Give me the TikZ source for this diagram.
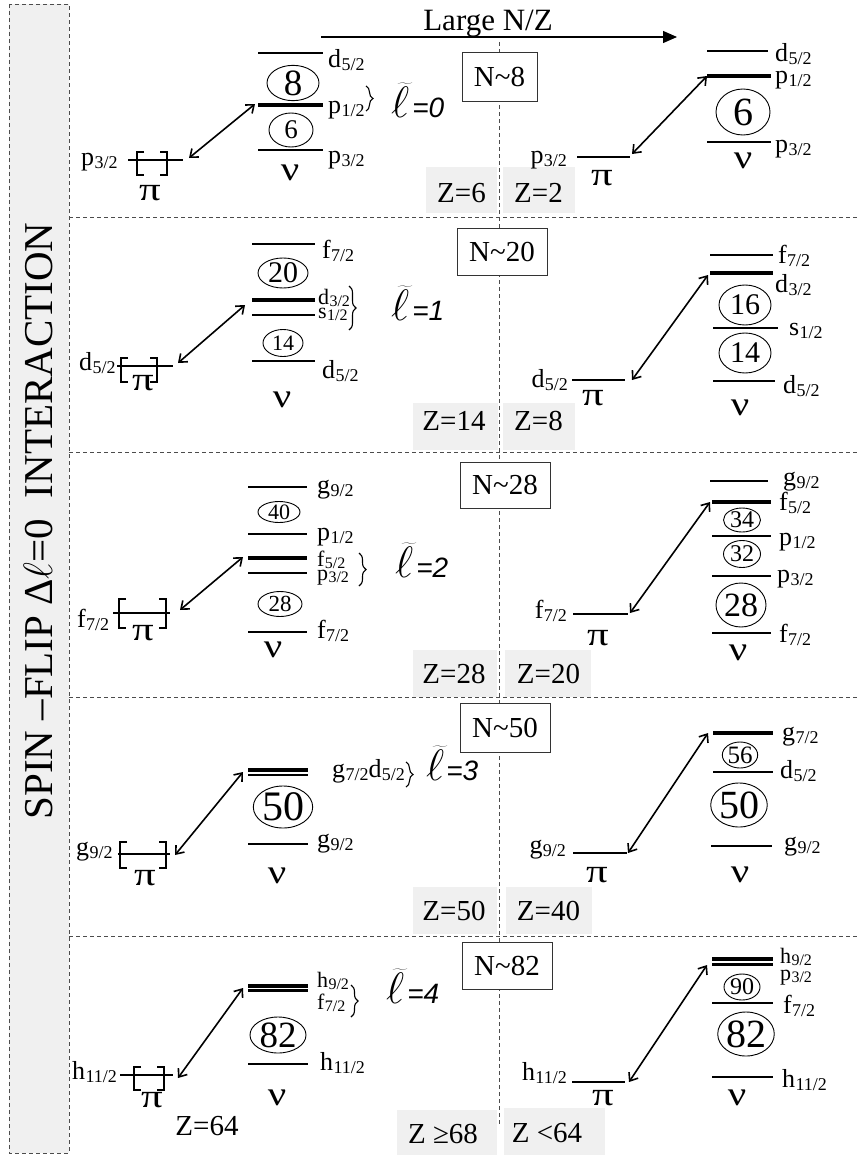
\documentclass[tikz,border=0pt]{standalone}
\usepackage{fix-cm}
\usepackage{fontspec}
\setmainfont{Liberation Serif}
\newfontfamily\lsans{Liberation Sans}
\usetikzlibrary{arrows.meta,shapes.geometric,decorations.pathreplacing}
\newcommand{\fs}[1]{\fontsize{#1}{#1}\selectfont}
\newcommand{\lj}[2]{#1\kern0.3pt\raisebox{-3pt}{\fs{18}#2}}
\newcommand{\ljs}[2]{#1\kern0.3pt\raisebox{-2.5pt}{\fs{16}#2}}
\newcommand{\lbrk}[3]{\draw[brk] (#1,#2) ++(7,0) -- ++(-7,0) -- (#1,#3) -- ++(7,0);}
\newcommand{\rbrk}[3]{\draw[brk] (#1,#2) ++(-7,0) -- ++(7,0) -- (#1,#3) -- ++(-7,0);}
\newcommand{\ltil}[2]{{\fs{44}$\widetilde{\ell}$}\hspace{#2}{\lsans\itshape\fs{28}=#1}}
\newcommand{\PI}{\scalebox{1.3}[1]{π}}
\newcommand{\NU}{\scalebox{1.2}[1]{ν}}
\begin{document}
\begin{tikzpicture}[x=1pt,y=-1pt,
  lev/.style={line width=1.2pt},
  thk/.style={line width=4pt},
  med/.style={line width=2.2pt},
  dsh/.style={dash pattern=on 4pt off 3pt, line width=0.9pt, draw=black!70},
  lab/.style={font=\fs{26}, inner sep=0pt, anchor=base west},
  labs/.style={font=\fs{22}, inner sep=0pt, anchor=base west},
  labr/.style={font=\fs{26}, inner sep=0pt, anchor=base east},
  pin/.style={font=\fs{33}, inner sep=0pt, anchor=base},
  nun/.style={font=\fs{34}, inner sep=0pt, anchor=base},
  ell/.style={draw, ellipse, inner sep=0pt, line width=0.9pt},
  nbox/.style={draw=black!80, fill=white, line width=1pt, font=\fs{29}, inner sep=0pt},
  zfill/.style={fill=gray!12},
  ztxt/.style={font=\fs{29}, inner sep=0pt, anchor=base},
  brk/.style={line width=1.4pt},
  arr/.style={{Straight Barb[length=7pt,width=11pt]}-{Straight Barb[length=7pt,width=11pt]}, line width=1.6pt},
  lt/.style={inner sep=0pt, anchor=base west},
  bra/.style={decorate, decoration={brace, amplitude=7pt}, line width=1.1pt},
]
\useasboundingbox (0,0) rectangle (858,1156);
\fill[white] (0,0) rectangle (858,1156);

% left strip
\fill[gray!12] (9,4) rectangle (69,1153);
\draw[dsh] (9,4) rectangle (69,1153);
\node[rotate=90, font=\fs{41}, inner sep=0pt] (title) at (38,521) {SPIN –FLIP Δ$\ell$=0\ \ INTERACTION};

% dividers
\foreach \yy in {217,452,697,936} {\draw[dsh] (69,\yy) -- (858,\yy);}

% gray Z backgrounds
\fill[zfill] (426,167) rectangle (497,213);
\fill[zfill] (503,167) rectangle (575,213);
\fill[zfill] (413,403) rectangle (498,450);
\fill[zfill] (503,403) rectangle (575,450);
\fill[zfill] (413,650) rectangle (497,697);
\fill[zfill] (505,650) rectangle (591,697);
\fill[zfill] (413,887) rectangle (497,934);
\fill[zfill] (506,887) rectangle (592,934);
\fill[zfill] (397,1110) rectangle (497,1155);
\fill[zfill] (504,1108) rectangle (605,1155);

% centre dashed line
\coordinate (ctop) at (499,42);
\coordinate (cbot) at (499,1124);
\draw[dsh] (ctop) -- (cbot);

% Large N/Z arrow
\node[font=\fs{31}, inner sep=0pt, anchor=base] (lnz) at (488,31) {Large N/Z};
\coordinate (nzs) at (321,37);
\coordinate (nze) at (677,37);
\draw[-{Triangle[length=14pt,width=12pt]}, line width=1.3pt] (nzs) -- (nze);

% N boxes
\node[nbox, minimum width=75, minimum height=48] (n8) at (499.5,77) {N\textasciitilde 8};
\node[nbox, minimum width=90, minimum height=47] (n20) at (502,251.5) {N\textasciitilde 20};
\node[nbox, minimum width=90, minimum height=46] (n28) at (505,485) {N\textasciitilde 28};
\node[nbox, minimum width=90, minimum height=49] (n50) at (505,727.5) {N\textasciitilde 50};
\node[nbox, minimum width=90, minimum height=47] (n82) at (507,965.5) {N\textasciitilde 82};

% Z texts
\node[ztxt] (z1a) at (461.5,202) {Z=6};
\node[ztxt] (z1b) at (538.5,202) {Z=2};
\node[ztxt] (z2a) at (454,430) {Z=14};
\node[ztxt] (z2b) at (538.5,430) {Z=8};
\node[ztxt] (z3a) at (454,683) {Z=28};
\node[ztxt] (z3b) at (548.5,683) {Z=20};
\node[ztxt] (z4a) at (454,920) {Z=50};
\node[ztxt] (z4b) at (548.5,920) {Z=40};
\node[ztxt] (z5a) at (443,1143) {Z ≥68};
\node[ztxt] (z5b) at (547,1142) {Z <64};
\node[ztxt] (z64) at (207,1135) {Z=64};

%================ ROW 1 =================
\draw[lev] (128,160) -- (183,160);
\lbrk{137}{152}{175}
\rbrk{167}{152}{175}
\node[lab] (r1lp) at (81,165) {\lj{p}{3/2}};
\node[pin] (r1lpi) at (150,200) {\PI};
\draw[lev] (258,53) -- (323,53);
\draw[thk] (258,105) -- (323,105);
\draw[lev] (258,150) -- (323,150);
\node[ell, minimum width=52, minimum height=34, font=\fs{37}] (c8) at (293,83) {8};
\node[ell, minimum width=44, minimum height=34, font=\fs{27}] (c6a) at (291,130) {6};
\node[lab] (r1l1) at (328,67) {\lj{d}{5/2}};
\node[lab] (r1l2) at (328,113) {\lj{p}{1/2}};
\node[lab] (r1l3) at (328,163) {\lj{p}{3/2}};
\node[nun] (r1lnu) at (290,180) {\NU};
\draw[bra] (366,86) -- (366,111);
\node[lt] (lt0) at (391,117) {\ltil{0}{3pt}};
\coordinate (a1s) at (189,158);
\coordinate (a1e) at (255,104);
\draw[arr] (a1s) -- (a1e);
% right
\draw[lev] (577,157) -- (630,157);
\node[labr] (r1rp) at (567,163) {\lj{p}{3/2}};
\node[pin] (r1rpi) at (602,185) {\PI};
\draw[lev] (707,51) -- (768,51);
\draw[thk] (707,76) -- (771,76);
\draw[lev] (707,142) -- (771,142);
\node[ell, minimum width=54, minimum height=46, font=\fs{40}] (c6b) at (743,112) {6};
\node[lab] (r1r1) at (775,62) {\lj{d}{5/2}};
\node[lab] (r1r2) at (775,83) {\lj{p}{1/2}};
\node[lab] (r1r3) at (775,152) {\lj{p}{3/2}};
\node[nun] (r1rnu) at (743,168) {\NU};
\coordinate (b1s) at (632,154);
\coordinate (b1e) at (707,76);
\draw[arr] (b1s) -- (b1e);

%================ ROW 2 =================
\draw[lev] (117,366) -- (173,366);
\lbrk{121}{358}{382}
\rbrk{157}{358}{382}
\node[lab] (r2lp) at (79,370) {\lj{d}{5/2}};
\node[pin] (r2lpi) at (143,390) {\PI};
\draw[lev] (252,244) -- (315,244);
\draw[thk] (252,300) -- (315,300);
\draw[lev] (252,315) -- (315,315);
\draw[lev] (252,361) -- (315,361);
\node[ell, minimum width=50, minimum height=30, font=\fs{30}] (c20) at (283,273) {20};
\node[ell, minimum width=40, minimum height=27, font=\fs{22}] (c14a) at (283,343) {14};
\node[lab] (r2l1) at (322,258) {\lj{f}{7/2}};
\node[labs] (r2l2) at (318,304) {\ljs{d}{3/2}};
\node[labs] (r2l3) at (318,318) {\ljs{s}{1/2}};
\node[lab] (r2l4) at (322,378) {\lj{d}{5/2}};
\node[nun] (r2lnu) at (282,407) {\NU};
\draw[bra] (349,286) -- (349,330);
\node[lt] (lt1) at (391,320) {\ltil{1}{3pt}};
\coordinate (a2s) at (178,363);
\coordinate (a2e) at (245,305);
\draw[arr] (a2s) -- (a2e);
% right
\draw[lev] (572,380) -- (625,380);
\node[labr] (r2rp) at (568,387) {\lj{d}{5/2}};
\node[pin] (r2rpi) at (593,405) {\PI};
\draw[lev] (710,255) -- (773,255);
\draw[thk] (710,273) -- (773,273);
\draw[lev] (713,328) -- (778,328);
\draw[lev] (713,381) -- (775,381);
\node[ell, minimum width=52, minimum height=40, font=\fs{30}] (c16) at (745,305) {16};
\node[ell, minimum width=52, minimum height=40, font=\fs{30}] (c14b) at (745,353) {14};
\node[lab] (r2r1) at (778,263) {\lj{f}{7/2}};
\node[lab] (r2r2) at (775,292) {\lj{d}{3/2}};
\node[lab] (r2r3) at (789,335) {\lj{s}{1/2}};
\node[lab] (r2r4) at (783,393) {\lj{d}{5/2}};
\node[nun] (r2rnu) at (740,415) {\NU};
\coordinate (b2s) at (632,380);
\coordinate (b2e) at (708,275);
\draw[arr] (b2s) -- (b2e);

%================ ROW 3 =================
\draw[lev] (113,613) -- (170,613);
\lbrk{119}{599}{628}
\rbrk{166}{599}{628}
\node[lab] (r3lp) at (77,627) {\lj{f}{7/2}};
\node[pin] (r3lpi) at (143,640) {\PI};
\draw[lev] (248,487) -- (307,487);
\draw[lev] (248,534) -- (307,534);
\draw[thk] (248,558) -- (307,558);
\draw[lev] (248,573) -- (307,573);
\draw[lev] (248,632) -- (307,632);
\node[ell, minimum width=42, minimum height=21, font=\fs{22}] (c40) at (279,512) {40};
\node[ell, minimum width=44, minimum height=25, font=\fs{23}] (c28a) at (280,604) {28};
\node[lab] (r3l1) at (317,493) {\lj{g}{9/2}};
\node[lab] (r3l2) at (317,540) {\lj{p}{1/2}};
\node[labs] (r3l3) at (317,566) {\ljs{f}{5/2}};
\node[labs] (r3l4) at (317,580) {\ljs{p}{3/2}};
\node[lab] (r3l5) at (317,638) {\lj{f}{7/2}};
\node[nun] (r3lnu) at (273,657) {\NU};
\draw[bra] (359,553) -- (359,586);
\node[lt] (lt2) at (395,577) {\ltil{2}{3pt}};
\coordinate (a3s) at (180,610);
\coordinate (a3e) at (243,557);
\draw[arr] (a3s) -- (a3e);
% right
\draw[lev] (573,614) -- (628,614);
\node[labr] (r3rp) at (567,618) {\lj{f}{7/2}};
\node[pin] (r3rpi) at (598,645) {\PI};
\draw[lev] (710,481) -- (768,481);
\draw[thk] (712,502) -- (771,502);
\draw[lev] (712,536) -- (771,536);
\draw[lev] (712,576) -- (771,576);
\draw[lev] (712,633) -- (771,633);
\node[ell, minimum width=37, minimum height=24, font=\fs{24}] (c34) at (742,520) {34};
\node[ell, minimum width=37, minimum height=27, font=\fs{24}] (c32) at (742,554) {32};
\node[ell, minimum width=50, minimum height=44, font=\fs{34}] (c28b) at (741,605) {28};
\node[lab] (r3r1) at (783,485) {\lj{g}{9/2}};
\node[lab] (r3r2) at (779,510) {\lj{f}{5/2}};
\node[lab] (r3r3) at (779,545) {\lj{p}{1/2}};
\node[lab] (r3r4) at (777,582) {\lj{p}{3/2}};
\node[lab] (r3r5) at (779,642) {\lj{f}{7/2}};
\node[nun] (r3rnu) at (738,660) {\NU};
\coordinate (b3s) at (630,613);
\coordinate (b3e) at (710,502);
\draw[arr] (b3s) -- (b3e);

%================ ROW 4 =================
\draw[lev] (118,854) -- (170,854);
\lbrk{120}{842}{868}
\rbrk{166}{842}{868}
\node[lab] (r4lp) at (76,855) {\lj{g}{9/2}};
\node[pin] (r4lpi) at (145,885) {\PI};
\draw[thk] (248,770) -- (308,770);
\draw[med] (248,775) -- (308,775);
\draw[lev] (248,844) -- (308,844);
\node[ell, minimum width=58, minimum height=42, font=\fs{42}] (c50a) at (283,807) {50};
\node[lab] (r4l1) at (332,777) {\lj{g}{7/2}\lj{d}{5/2}};
\node[lab] (r4l2) at (317,847) {\lj{g}{9/2}};
\node[nun] (r4lnu) at (277,883) {\NU};
\draw[bra] (406,762) -- (406,787);
\node[lt] (lt3) at (426,780) {\ltil{3}{2pt}};
\coordinate (a4s) at (175,855);
\coordinate (a4e) at (243,772);
\draw[arr] (a4s) -- (a4e);
% right
\draw[lev] (573,853) -- (627,853);
\node[labr] (r4rp) at (566,853) {\lj{g}{9/2}};
\node[pin] (r4rpi) at (597,882) {\PI};
\draw[thk] (713,733) -- (773,733);
\draw[lev] (713,772) -- (773,772);
\draw[lev] (711,846) -- (772,846);
\node[ell, minimum width=34, minimum height=26, font=\fs{25}] (c56) at (740,755) {56};
\node[ell, minimum width=47, minimum height=44, font=\fs{40}] (c50b) at (739,805) {50};
\node[lab] (r4r1) at (782,740) {\lj{g}{7/2}};
\node[lab] (r4r2) at (780,778) {\lj{d}{5/2}};
\node[lab] (r4r3) at (784,850) {\lj{g}{9/2}};
\node[nun] (r4rnu) at (740,882) {\NU};
\coordinate (b4s) at (628,853);
\coordinate (b4e) at (708,733);
\draw[arr] (b4s) -- (b4e);

%================ ROW 5 =================
\draw[lev] (120,1075) -- (173,1075);
\lbrk{134}{1067}{1090}
\rbrk{164}{1067}{1090}
\node[lab] (r5lp) at (72,1079) {\lj{h}{11/2}};
\node[pin] (r5lpi) at (152,1107) {\PI};
\draw[thk] (248,985.5) -- (308,985.5);
\draw[med] (248,990.5) -- (308,990.5);
\draw[lev] (248,1064) -- (308,1064);
\node[ell, minimum width=56, minimum height=36, font=\fs{37}] (c82a) at (278,1035) {82};
\node[labs] (r5l1) at (317,987) {\ljs{h}{9/2}};
\node[labs] (r5l2) at (317,1009) {\ljs{f}{7/2}};
\node[lab] (r5l3) at (320,1070) {\lj{h}{11/2}};
\node[nun] (r5lnu) at (277,1105) {\NU};
\draw[bra] (351,985) -- (351,1017);
\node[lt] (lt4) at (386,1003) {\ltil{4}{3pt}};
\coordinate (a5s) at (178,1078);
\coordinate (a5e) at (243,988);
\draw[arr] (a5s) -- (a5e);
% right
\draw[lev] (572,1082) -- (625,1082);
\node[labr] (r5rp) at (567,1080) {\lj{h}{11/2}};
\node[pin] (r5rpi) at (603,1105) {\PI};
\draw[thk] (712,959) -- (773,959);
\draw[med] (712,964.5) -- (773,964.5);
\draw[lev] (712,1003) -- (773,1003);
\draw[lev] (712,1077) -- (773,1077);
\node[ell, minimum width=36, minimum height=26, font=\fs{24}] (c90) at (742,987) {90};
\node[ell, minimum width=56, minimum height=44, font=\fs{40}] (c82b) at (746,1034) {82};
\node[labs] (r5r1) at (780,963) {\ljs{h}{9/2}};
\node[labs] (r5r2) at (780,980) {\ljs{p}{3/2}};
\node[lab] (r5r3) at (783,1013) {\lj{f}{7/2}};
\node[lab] (r5r4) at (782,1087) {\lj{h}{11/2}};
\node[nun] (r5rnu) at (737,1105) {\NU};
\coordinate (b5s) at (629,1082);
\coordinate (b5e) at (707,965);
\draw[arr] (b5s) -- (b5e);
\end{tikzpicture}
\end{document}
